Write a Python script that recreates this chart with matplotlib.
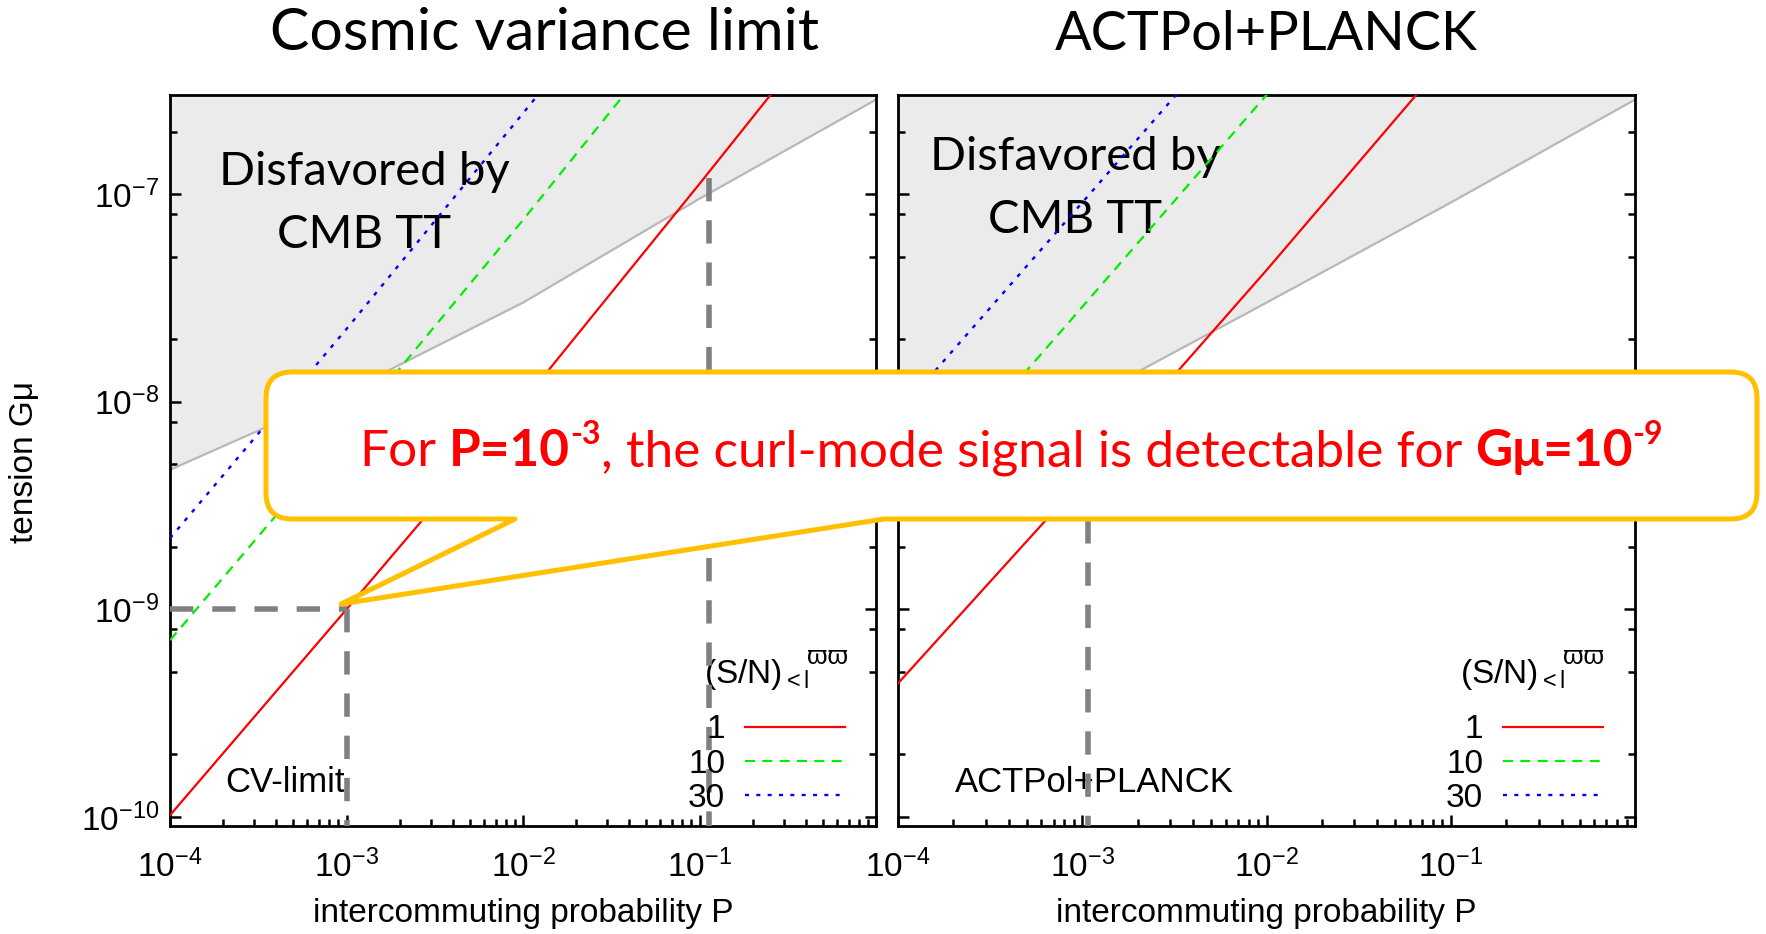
import matplotlib
matplotlib.use("Agg")
import matplotlib.pyplot as plt
from matplotlib.path import Path
from matplotlib.patches import PathPatch
from matplotlib.ticker import LogLocator, NullFormatter

plt.rcParams['font.family'] = ['Liberation Sans', 'DejaVu Sans']
plt.rcParams['mathtext.fontset'] = 'custom'
plt.rcParams['mathtext.rm'] = 'Liberation Sans'
plt.rcParams['mathtext.it'] = 'Liberation Sans:italic'
plt.rcParams['mathtext.bf'] = 'Liberation Sans:bold'
plt.rcParams['axes.unicode_minus'] = False

# values (P, G mu)
cv_gray_P = [1e-4, 1e-3, 1e-2, 1e-1, 1.0]
cv_gray_G = [4.7e-9, 1.12e-8, 3.0e-8, 9.5e-8, 2.85e-7]
cv_red_P = [1e-4, 1e-3, 1e-2, 1e-1, 1.0]
cv_red_G = [1.02e-10, 1.0e-9, 1.0e-8, 1.12e-7, 1.3e-6]
cv_green_P = [1e-4, 1e-3, 1e-2, 1e-1]
cv_green_G = [7.1e-10, 7.1e-9, 7.5e-8, 8.5e-7]
cv_blue_P = [1e-4, 1e-3, 1e-2, 1e-1]
cv_blue_G = [2.2e-9, 2.24e-8, 2.45e-7, 2.7e-6]

act_gray_P = [1e-4, 1e-3, 1e-2, 1e-1, 1.0]
act_gray_G = [3.4e-9, 1.0e-8, 3.0e-8, 9.1e-8, 2.85e-7]
act_red_P = [1e-4, 1e-3, 1e-2, 1e-1]
act_red_G = [4.4e-10, 4.2e-9, 4.3e-8, 4.7e-7]
act_green_P = [1e-4, 1e-3, 1e-2, 1e-1]
act_green_G = [2.75e-9, 2.86e-8, 3.0e-7, 3.1e-6]
act_blue_P = [1e-4, 1e-3, 1e-2]
act_blue_G = [8.8e-9, 9.1e-8, 9.5e-7]

sn_labels = ['1', '10', '30']
sn_title = r'$(\mathdefault{S/N})_{\mathdefault{<l}}$'
sn_title_sup = '\u03d6\u03d6'

# dashed guides: (P, G top) verticals, horizontal at G=1e-9
cv_vguides = [(1e-3, 1e-9), (0.113, 1.2e-7)]
cv_hguide = ([1e-4, 1e-3], 1e-9)
act_vguides = [(1.08e-3, 4.3e-9)]

xticks = [1e-4, 1e-3, 1e-2, 1e-1, 1.0]
xticklabels = [r'$\mathdefault{10^{-4}}$', r'$\mathdefault{10^{-3}}$',
               r'$\mathdefault{10^{-2}}$', r'$\mathdefault{10^{-1}}$', '']
yticks = [1e-10, 1e-9, 1e-8, 1e-7]
yticklabels = [r'$\mathdefault{10^{-10}}$', r'$\mathdefault{10^{-9}}$',
               r'$\mathdefault{10^{-8}}$', r'$\mathdefault{10^{-7}}$']
xlim = (1e-4, 1.0)
ylim = (9.05e-11, 3.0e-7)

W, H = 1766, 934
fig = plt.figure(figsize=(W / 100, H / 100), dpi=100)
ax1 = fig.add_axes([170 / W, 1 - 826 / H, 706 / W, 731 / H])
ax2 = fig.add_axes([898 / W, 1 - 826 / H, 737 / W, 731 / H])

FS = 24
LATO = ['Lato', 'DejaVu Sans']


def panel(ax, gP, gG, curves, vguides, hguide, ylabels):
    ax.set_xscale('log')
    ax.set_yscale('log')
    ax.fill_between(gP, gG, 1e-5, color='#EBEBEB', lw=0, zorder=1)
    ax.plot(gP, gG, color='#B8B8B8', lw=1.6, zorder=2)
    (rP, rG), (gnP, gnG), (bP, bG) = curves
    lr, = ax.plot(rP, rG, color='#FF0000', lw=1.6, zorder=3)
    lg, = ax.plot(gnP, gnG, color='#00EE00', lw=1.6, dashes=(4.5, 3.3), zorder=3)
    lb, = ax.plot(bP, bG, color='#0000FF', lw=1.7, dashes=(1.7, 3.1), zorder=3)
    for p, top in vguides:
        ax.plot([p, p], [top, ylim[0]], color='#808080', lw=4, dashes=(4.2, 3.4), zorder=4)
    if hguide is not None:
        ax.plot(hguide[0], [hguide[1]] * 2, color='#808080', lw=4, dashes=(4.2, 3.4), zorder=4)
    ax.set_xlim(*xlim)
    ax.set_ylim(*ylim)
    ax.set_xticks(xticks, labels=xticklabels)
    ax.set_yticks(yticks, labels=yticklabels if ylabels else [''] * 4)
    ax.xaxis.set_minor_locator(LogLocator(base=10, subs=range(2, 10), numticks=20))
    ax.yaxis.set_minor_locator(LogLocator(base=10, subs=[2, 5, 8], numticks=20))
    ax.xaxis.set_minor_formatter(NullFormatter())
    ax.yaxis.set_minor_formatter(NullFormatter())
    ax.tick_params(which='both', direction='in', width=1.8, labelsize=FS,
                   top=False, right=True)
    ax.tick_params(which='major', length=8)
    ax.tick_params(which='minor', length=5)
    ax.tick_params(axis='x', pad=17)
    ax.tick_params(axis='y', pad=8)
    for s in ax.spines.values():
        s.set_linewidth(2.0)
    ax.set_xlabel('intercommuting probability P', fontsize=FS, labelpad=10)
    ax.legend([lr, lg, lb], sn_labels, loc='lower right',
              bbox_to_anchor=(0.968, 0.005), frameon=False, markerfirst=False,
              handlelength=3.0, handletextpad=0.6, labelspacing=0.1,
              fontsize=FS, borderpad=0.25, borderaxespad=0)
    ax.text(0.906, 0.195, sn_title, transform=ax.transAxes, ha='right',
            va='baseline', fontsize=FS)
    ax.text(0.902, 0.222, sn_title_sup, transform=ax.transAxes, ha='left',
            va='baseline', fontsize=19)


panel(ax1, cv_gray_P, cv_gray_G,
      [(cv_red_P, cv_red_G), (cv_green_P, cv_green_G), (cv_blue_P, cv_blue_G)],
      cv_vguides, cv_hguide, True)
panel(ax2, act_gray_P, act_gray_G,
      [(act_red_P, act_red_G), (act_green_P, act_green_G), (act_blue_P, act_blue_G)],
      act_vguides, None, False)

for ax, xc, yb in [(ax1, 0.2748, (0.8769, 0.7907)), (ax2, 0.2402, (0.8974, 0.8112))]:
    ax.text(xc, yb[0], 'Disfavored by', transform=ax.transAxes, ha='center',
            va='baseline', fontsize=34, family=LATO, zorder=2.5)
    ax.text(xc, yb[1], 'CMB TT', transform=ax.transAxes, ha='center',
            va='baseline', fontsize=34, family=LATO, zorder=2.5)
ax1.text(0.078, 0.0465, 'CV-limit', transform=ax1.transAxes, fontsize=25, va='baseline')
ax2.text(0.077, 0.0465, 'ACTPol+PLANCK', transform=ax2.transAxes, fontsize=25, va='baseline')

fig.text(545 / W, 1 - 50 / H, 'Cosmic variance limit', ha='center', va='baseline',
         fontsize=42.5, family=LATO)
fig.text(1266 / W, 1 - 50 / H, 'ACTPol+PLANCK', ha='center', va='baseline',
         fontsize=39, family=LATO)
fig.text(25 / W, 1 - 462 / H, 'tension G\u03bc', rotation=90, ha='center',
         va='center', fontsize=FS)

# callout overlay, in pixel units
ov = fig.add_axes([0, 0, 1, 1], zorder=10)
ov.set_xlim(0, W)
ov.set_ylim(H, 0)
ov.axis('off')

x0, x1, y0, y1, r = 266, 1757, 372, 519, 26
tail = [(884, y1), (341, 604), (515, y1)]
verts = [(x0 + r, y0), (x1 - r, y0), (x1, y0), (x1, y0 + r), (x1, y1 - r),
         (x1, y1), (x1 - r, y1)] + tail + [(x0 + r, y1), (x0, y1), (x0, y1 - r),
                                           (x0, y0 + r), (x0, y0), (x0 + r, y0), (0, 0)]
codes = ([Path.MOVETO, Path.LINETO, Path.CURVE3, Path.CURVE3, Path.LINETO,
          Path.CURVE3, Path.CURVE3] + [Path.LINETO] * 3 +
         [Path.LINETO, Path.CURVE3, Path.CURVE3, Path.LINETO, Path.CURVE3,
          Path.CURVE3, Path.CLOSEPOLY])
ov.add_patch(PathPatch(Path(verts, codes), facecolor='white', edgecolor='#FFC000',
                       lw=3.6, joinstyle='round'))

# rich text line: (text, bold, superscript); None means a space
pieces = [('For', False, False), None, ('P=10', True, False), ('-3', True, True),
          (',', False, False), None,
          ('the curl-mode signal is detectable for', False, False), None,
          ('G\u03bc=10', True, False), ('-9', True, True)]
csize = 37
renderer = fig.canvas.get_renderer()


def width(s, fs, bold):
    t = ov.text(0, 0, s, fontsize=fs, family=LATO, fontweight='bold' if bold else 'normal')
    w = t.get_window_extent(renderer).width
    t.remove()
    return w


space = width('a a', csize, False) - width('aa', csize, False)
objs = []
xpos = 0.0
base = 466
for pc in pieces:
    if pc is None:
        xpos += space
        continue
    s, bold, sup = pc
    fs = csize * 0.62 if sup else csize
    dy = -csize * 0.42 * 100 / 72 if sup else 0
    t = ov.text(xpos, base + dy, s, fontsize=fs, family=LATO, color='#FF0000',
                fontweight='bold' if bold else 'normal', ha='left', va='baseline')
    xpos += t.get_window_extent(renderer).width
    objs.append(t)
shift = 1011 - xpos / 2
for t in objs:
    t.set_x(t.get_position()[0] + shift)

fig.savefig('out.png', dpi=100)
